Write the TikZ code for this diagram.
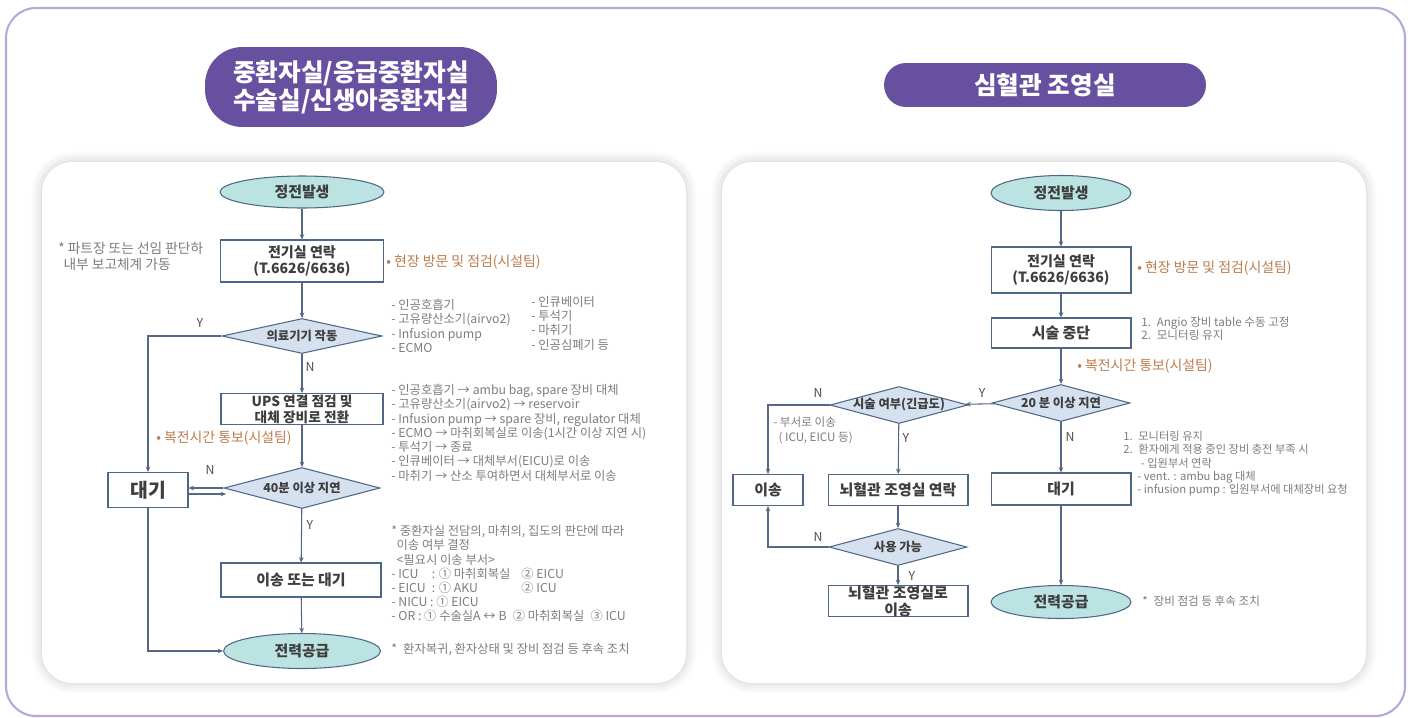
\documentclass[tikz,border=0pt]{standalone}
\usepackage{fontspec}
\setmainfont{Noto Sans CJK KR}
\usetikzlibrary{shapes.geometric,arrows.meta,shadows.blur}

\definecolor{edgeblue}{RGB}{79,103,135}
\definecolor{linecol}{RGB}{84,104,134}
\definecolor{tealfill}{RGB}{187,227,226}
\definecolor{diafill}{RGB}{214,225,239}
\definecolor{boxtext}{RGB}{62,62,62}
\definecolor{graytext}{RGB}{125,125,125}
\definecolor{orangetext}{RGB}{188,124,76}
\definecolor{ynlabel}{RGB}{80,80,80}
\definecolor{pillpurple}{RGB}{104,80,160}
\definecolor{framecol}{RGB}{185,167,212}

\tikzset{
  startend/.style={ellipse, draw=edgeblue, fill=tealfill, line width=0.6pt, inner sep=0pt,
    text=boxtext, font=\bfseries\fontsize{8.5}{10}\selectfont},
  procbox/.style={rectangle, draw=edgeblue, fill=white, line width=0.6pt, inner sep=0pt,
    align=center, text=boxtext, font=\bfseries\fontsize{8}{9.6}\selectfont},
  decide/.style={diamond, aspect=4, draw=edgeblue, fill=diafill, line width=0.6pt, inner sep=0pt,
    text=boxtext, font=\bfseries\fontsize{7}{8}\selectfont},
  flow/.style={draw=linecol, line width=0.6pt, ->},
  yn/.style={text=ynlabel, inner sep=0pt, font=\fontsize{7}{8}\selectfont},
  note/.style={text=graytext, inner sep=0pt, anchor=north west, align=left,
    font=\fontsize{7}{8.1}\selectfont},
  fixnote/.style={text=orangetext, inner sep=0pt, anchor=west,
    font=\fontsize{7.9}{9}\selectfont},
  titlepill/.style={fill=pillpurple, text=white, align=center, inner sep=0pt,
    font=\bfseries\fontsize{14}{16}\selectfont},
  panel/.style={fill=white, rounded corners=0.6cm,
    blur shadow={shadow xshift=0pt, shadow yshift=0pt, shadow blur radius=6pt, shadow opacity=22}},
}

\begin{document}
\begin{tikzpicture}[x=0.02cm, y=-0.02cm, >={Stealth[length=3pt,width=2.6pt]}]
    \useasboundingbox (0,0) rectangle (1412,717);
    % 바깥 테두리와 패널
    \draw[framecol, line width=1.2pt, rounded corners=0.6cm] (6,8) rectangle (1405,716);
    \path[panel] (42,162) rectangle (686,683);
    \path[panel] (722,162) rectangle (1366,683);

    % 제목
    \node[titlepill, rounded corners=0.75cm, minimum width=5.84cm, minimum height=1.6cm] (Ltitle) at (351,87)
        {중환자실/응급중환자실\\수술실/신생아중환자실};
    \node[titlepill, rounded corners=0.44cm, minimum width=6.44cm, minimum height=0.88cm,
        font=\bfseries\fontsize{14}{16}\selectfont] (Rtitle) at (1045,85) {심혈관 조영실};

    % 왼쪽 흐름도
    \node[startend, minimum width=3.28cm, minimum height=0.64cm] (Lstart) at (302,192) {정전발생};
    \node[procbox, minimum width=3.26cm, minimum height=0.84cm] (Lcall) at (302,261) {전기실 연락\\(T.6626/6636)};
    \node[decide, minimum width=3.2cm, minimum height=0.7cm] (Ldev) at (302,336) {의료기기 작동};
    \node[procbox, minimum width=3.24cm, minimum height=0.62cm, font=\bfseries\fontsize{7.8}{9}\selectfont] (Lups) at (302,409) {UPS 연결 점검 및\\대체 장비로 전환};
    \node[decide, minimum width=3.12cm, minimum height=0.82cm] (Ldelay) at (302,488) {40분 이상 지연};
    \node[procbox, minimum width=1.6cm, minimum height=0.7cm, font=\bfseries\fontsize{11}{13}\selectfont] (Lwait) at (148,490) {대기};
    \node[procbox, minimum width=3.2cm, minimum height=0.68cm, font=\bfseries\fontsize{8.5}{10}\selectfont] (Lmove) at (301,580) {이송 또는 대기};
    \node[startend, minimum width=3.14cm, minimum height=0.7cm] (Lpower) at (302,651) {전력공급};
    \coordinate (Lback) at (226,494);

    \draw[flow] (Lstart) -- (Lcall);
    \draw[flow] (Lcall) -- (Ldev);
    \draw[flow] (Ldev.west) -| (Lwait.north);
    \draw[flow] (Ldev) -- (Lups);
    \draw[flow] (Lups) -- (Ldelay);
    \draw[flow] (Ldelay.west) -- (Lwait.east |- Ldelay.west);
    \draw[flow] (Lwait.east |- Lback) -- (Lback);
    \draw[flow] (Ldelay) -- (Lmove);
    \draw[flow] (Lmove) -- (Lpower);
    \draw[flow] (Lwait.south) |- (Lpower.west);

    \node[yn] (LdevY) at (200,323) {Y};
    \node[yn] (LdevN) at (310,367) {N};
    \node[yn] (LdelayN) at (210,470) {N};
    \node[yn] (LdelayY) at (310,525) {Y};

    % 왼쪽 설명
    \node[note, font=\fontsize{7.8}{9.2}\selectfont] (Lboss) at (58,242) {* 파트장 또는 선임 판단하\\\hspace*{3pt}내부 보고체계 가동};
    \node[fixnote] (Lvisit) at (386,262) {• 현장 방문 및 점검(시설팀)};
    \node[note] (Ldevlist) at (391,299) {- 인공호흡기\\- 고유량산소기(airvo2)\\- Infusion pump\\- ECMO};
    \node[note] (Ldevlist2) at (531,296) {- 인큐베이터\\- 투석기\\- 마취기\\- 인공심폐기 등};
    \node[fixnote] (Lrestore) at (156,438) {• 복전시간 통보(시설팀)};
    \node[note] (Lswap) at (391,384) {- 인공호흡기 → ambu bag, spare 장비 대체\\
        - 고유량산소기(airvo2) → reservoir\\
        - Infusion pump → spare 장비, regulator 대체\\
        - ECMO → 마취회복실로 이송(1시간 이상 지연 시)\\
        - 투석기 → 종료\\
        - 인큐베이터 → 대체부서(EICU)로 이송\\
        - 마취기 → 산소 투여하면서 대체부서로 이송};
    \node[note] (Ltransfer) at (391,525) {* 중환자실 전담의, 마취의, 집도의 판단에 따라\\
        \hspace*{3pt}이송 여부 결정\\
        \hspace*{3pt}<필요시 이송 부서>\\
        - \makebox[19pt][l]{ICU}: \makebox[47pt][l]{① 마취회복실}② EICU\\
        - \makebox[19pt][l]{EICU}: \makebox[47pt][l]{① AKU}② ICU\\
        - NICU : ① EICU\\
        - OR : ① 수술실A ↔ B\enspace ② 마취회복실\enspace ③ ICU};
    \node[note, anchor=west] (Lafter) at (391,650) {*\enspace 환자복귀, 환자상태 및 장비 점검 등 후속 조치};

    % 오른쪽 흐름도
    \node[startend, minimum width=2.8cm, minimum height=0.7cm] (Rstart) at (1061,193) {정전발생};
    \node[procbox, minimum width=2.8cm, minimum height=0.92cm] (Rcall) at (1061,270) {전기실 연락\\(T.6626/6636)};
    \node[procbox, minimum width=2.8cm, minimum height=0.6cm, font=\bfseries\fontsize{8.5}{10}\selectfont] (Rstop) at (1061,333) {시술 중단};
    \node[decide, minimum width=2.76cm, minimum height=0.74cm] (Rdelay) at (1061,403) {20 분 이상 지연};
    \node[decide, minimum width=2.76cm, minimum height=0.74cm, inner xsep=-5pt] (Rproc) at (899,405) {시술 여부(긴급도)};
    \node[procbox, minimum width=1.4cm, minimum height=0.62cm, font=\bfseries\fontsize{8.5}{10}\selectfont] (Rmove) at (768,490) {이송};
    \node[procbox, minimum width=2.8cm, minimum height=0.62cm, font=\bfseries\fontsize{8.5}{10}\selectfont] (Rcall2) at (898,490) {뇌혈관 조영실 연락};
    \node[decide, minimum width=2.76cm, minimum height=0.74cm] (Ravail) at (898,547) {사용 가능};
    \node[procbox, minimum width=2.8cm, minimum height=0.62cm, font=\bfseries\fontsize{8.5}{9.6}\selectfont] (Rgo) at (898,601) {뇌혈관 조영실로\\이송};
    \node[procbox, minimum width=2.8cm, minimum height=0.64cm, font=\bfseries\fontsize{8.5}{10}\selectfont] (Rwait) at (1061,489) {대기};
    \node[startend, minimum width=2.8cm, minimum height=0.66cm] (Rpower) at (1061,602) {전력공급};

    \draw[flow] (Rstart) -- (Rcall);
    \draw[flow] (Rcall) -- (Rstop);
    \draw[flow] (Rstop) -- (Rdelay);
    \draw[flow] (Rdelay) -- (Rproc);
    \draw[flow] (Rproc.west) -| (Rmove.north);
    \draw[flow] (Rproc) -- (Rcall2);
    \draw[flow] (Rcall2) -- (Ravail);
    \draw[flow] (Ravail.west) -| (Rmove.south);
    \draw[flow] (Ravail) -- (Rgo);
    \draw[flow] (Rdelay) -- (Rwait);
    \draw[flow] (Rwait) -- (Rpower);

    \node[yn] (RdelayY) at (982,393) {Y};
    \node[yn] (RprocN) at (818,393) {N};
    \node[yn] (RprocY) at (906,438) {Y};
    \node[yn] (RavailN) at (818,537) {N};
    \node[yn] (RavailY) at (912,576) {Y};
    \node[yn] (RdelayN) at (1070,437) {N};

    % 오른쪽 설명
    \node[fixnote] (Rvisit) at (1137,268) {• 현장 방문 및 점검(시설팀)};
    \node[note, font=\fontsize{6.6}{7.4}\selectfont] (Rangio) at (1141,317) {1.\enspace Angio 장비 table 수동 고정\\2.\enspace 모니터링 유지};
    \node[fixnote] (Rrestore) at (1077,366) {• 복전시간 통보(시설팀)};
    \node[note, font=\fontsize{6.6}{8.5}\selectfont] (Rdept) at (773,417) {- 부서로 이송\\\hspace*{3pt}( ICU, EICU 등)};
    \node[note, font=\fontsize{6.4}{7.5}\selectfont] (Rkeep) at (1123,431) {1.\enspace 모니터링 유지\\
        2.\enspace 환자에게 적용 중인 장비 충전 부족 시\\
        \hspace*{10pt}- 입원부서 연락\\
        \hspace*{8pt}- vent. : ambu bag 대체\\
        \hspace*{8pt}- infusion pump : 입원부서에 대체장비 요청};
    \node[note, anchor=west, font=\fontsize{6.6}{8}\selectfont] (Rafter) at (1142,601) {*\enspace 장비 점검 등 후속 조치};
\end{tikzpicture}
\end{document}
